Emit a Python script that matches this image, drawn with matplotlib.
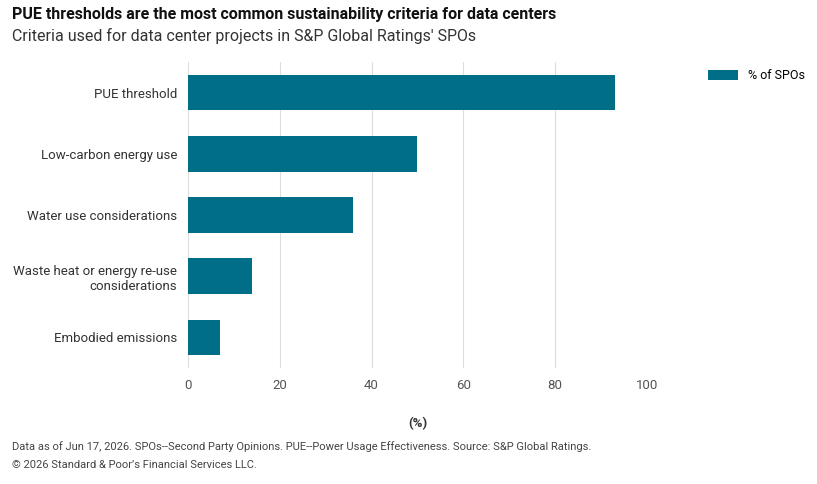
import matplotlib.pyplot as plt

categories = ["PUE threshold", "Low-carbon energy use", "Water use considerations",
              "Waste heat or energy re-use\nconsiderations", "Embodied emissions"]
values = [93, 50, 36, 14, 7]
ticks = [0, 20, 40, 60, 80, 100]

plt.rcParams['font.family'] = ['Roboto', 'DejaVu Sans']
fig = plt.figure(figsize=(8.17, 4.84), dpi=100)
ax = fig.add_axes([188/817, 1-368/484, (647-188)/817, (368-62)/484])
y = list(range(len(categories)))
ax.barh(y, values, height=0.58, color='#006e87', label='% of SPOs', zorder=3)
ax.set_ylim(len(categories)-0.5, -0.5)
ax.set_xlim(0, 100)
ax.set_xticks(ticks)
ax.set_yticks(y)
ax.set_yticklabels(categories, fontsize=9.5, color='#333333')
ax.tick_params(axis='x', labelsize=9.5, colors='#555555', length=0, pad=8)
ax.tick_params(axis='y', length=0, pad=8)
ax.grid(axis='x', color='#dddddd', lw=0.8, zorder=0)
for s in ax.spines.values():
    s.set_visible(False)
ax.set_xlabel('(%)', fontsize=9.5, fontweight='bold', color='#333333', labelpad=18)
fig.legend(loc='upper left', bbox_to_anchor=(697/817, 1-58/484), frameon=False,
           fontsize=9, handlelength=2.4, handleheight=0.9)
fig.text(12/817, 1-14/484, 'PUE thresholds are the most common sustainability criteria for data centers',
         fontsize=11.5, fontweight='bold', color='#111111', va='center')
fig.text(12/817, 1-36/484, "Criteria used for data center projects in S&P Global Ratings' SPOs",
         fontsize=11.5, color='#333333', va='center')
fig.text(12/817, 1-447/484, 'Data as of Jun 17, 2026. SPOs--Second Party Opinions. PUE--Power Usage Effectiveness. Source: S&P Global Ratings.',
         fontsize=8, color='#444444', va='center')
fig.text(12/817, 1-465/484, '© 2026 Standard & Poor\u2019s Financial Services LLC.',
         fontsize=8, color='#444444', va='center')
fig.savefig('out.png', dpi=100)
